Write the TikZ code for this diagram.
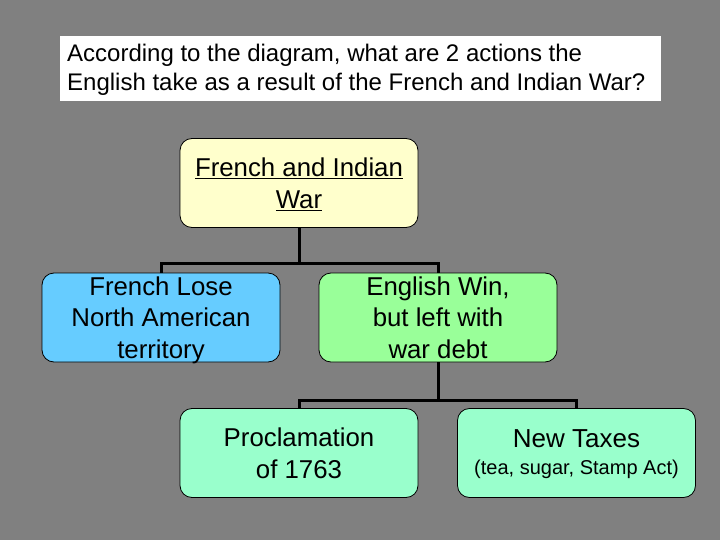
\documentclass[tikz,border=0pt]{standalone}
\usepackage{fontspec}
\setmainfont{Liberation Sans}
\definecolor{bggray}{RGB}{128,128,128}
\definecolor{topfill}{RGB}{255,255,204}
\definecolor{bluefill}{RGB}{102,204,255}
\definecolor{greenfill}{RGB}{153,255,153}
\definecolor{aquafill}{RGB}{153,255,204}
\tikzset{
  box/.style={draw=black, line width=0.8pt, rounded corners=12pt, minimum width=238pt, minimum height=89pt, inner sep=0pt, text depth=0pt, align=center, font=\fontsize{25.8}{31.8}\selectfont},
  conn/.style={draw=black, line width=3pt, line join=miter}
}
\begin{document}
\begin{tikzpicture}[x=1pt,y=1pt]
\fill[bggray] (0,0) rectangle (720,-540);
\useasboundingbox (0,0) rectangle (720,-540);
\node[fill=white, minimum width=601pt, minimum height=65pt, inner sep=0pt, anchor=north west] (q) at (60,-36) {};
\node[anchor=west, inner sep=0pt, align=left, font=\fontsize{24}{29}\selectfont] (qt) at ([xshift=7pt,yshift=-1pt]q.west) {According to the diagram, what are 2 actions the\\English take as a result of the French and Indian War?};
\node[box, fill=topfill] (top) at (299,-183) {\underline{French and Indian}\\\underline{War}};
\node[box, fill=bluefill] (left) at (161,-317.5) {French Lose\\North American\\territory};
\node[box, fill=greenfill] (mid) at (438,-317.5) {English Win,\\but left with\\war debt};
\node[box, fill=aquafill] (bl) at (299,-453) {Proclamation\\of 1763};
\node[box, fill=aquafill] (br) at (576.5,-453) {};
\node[inner sep=0pt, align=center, font=\fontsize{26}{27}\selectfont] (brt) at ([yshift=-1.5pt]br.center) {New Taxes\\{\fontsize{20}{24}\selectfont (tea, sugar, Stamp Act)}};
\coordinate (j1) at (299,-263);
\coordinate (j2) at (438,-400);
\draw[conn] (top.south) -- (j1);
\draw[conn] (left.north) |- (j1) -| (mid.north);
\draw[conn] (mid.south) -- (j2);
\draw[conn] (bl.north) |- (j2) -| (br.north);
\end{tikzpicture}
\end{document}
